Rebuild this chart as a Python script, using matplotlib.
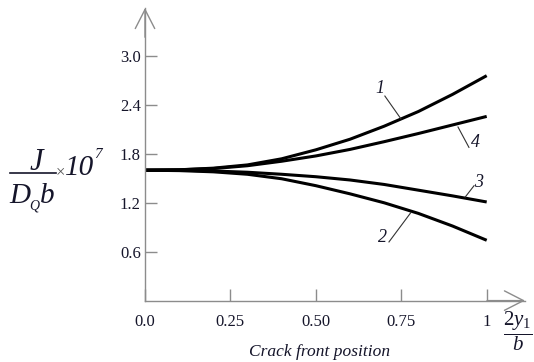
import matplotlib
matplotlib.use("Agg")
import matplotlib.pyplot as plt
from matplotlib.lines import Line2D

# ---- data ----
x_pos = [0.0, 0.1, 0.2, 0.3, 0.4, 0.5, 0.6, 0.7, 0.8, 0.9, 1.0]
curve1 = [1.60, 1.605, 1.625, 1.665, 1.74, 1.85, 1.98, 2.14, 2.32, 2.53, 2.76]
curve4 = [1.60, 1.605, 1.62, 1.655, 1.71, 1.775, 1.855, 1.95, 2.05, 2.155, 2.26]
curve3 = [1.60, 1.60, 1.59, 1.575, 1.55, 1.52, 1.48, 1.425, 1.355, 1.285, 1.21]
curve2 = [1.60, 1.595, 1.58, 1.55, 1.495, 1.41, 1.31, 1.20, 1.07, 0.915, 0.74]

xticks = [0.0, 0.25, 0.5, 0.75, 1.0]
xticklabels = ["0.0", "0.25", "0.50", "0.75", "1"]
yticks = [0.6, 1.2, 1.8, 2.4, 3.0]
yticklabels = ["0.6", "1.2", "1.8", "2.4", "3.0"]

# curve labels: (text, label position, leader start, leader end)
curve_labels = [
    ("1", (0.688, 2.60), (0.702, 2.51), (0.749, 2.23)),
    ("4", (0.968, 1.945), (0.916, 2.13), (0.948, 1.88)),
    ("3", (0.975, 1.455), (0.937, 1.27), (0.963, 1.41)),
    ("2", (0.694, 0.78), (0.714, 0.72), (0.778, 1.08)),
]

plt.rcParams['mathtext.fontset'] = 'custom'
plt.rcParams['mathtext.rm'] = 'Liberation Serif'
plt.rcParams['mathtext.it'] = 'Liberation Serif:italic'
plt.rcParams['font.family'] = ['Liberation Serif', 'DejaVu Serif']

axis_col = '#8c8c8c'
txt_col = '#15152a'
W, H = 534, 362

fig = plt.figure(figsize=(5.34, 3.62), dpi=100)
ax = fig.add_axes([145/W, 1-300.6/H, (525-145)/W, (300.6-8)/H])
ax.set_xlim(0, (525-145)/341.7)
ax.set_ylim(0, (300.6-8)/81.5)

for y in (curve1, curve4, curve3, curve2):
    ax.plot(x_pos, y, color='black', lw=2.2, solid_capstyle='butt',
            solid_joinstyle='round')

for txt, lp, ls, le in curve_labels:
    ax.plot([ls[0], le[0]], [ls[1], le[1]], color='#333333', lw=0.8)
    ax.text(lp[0], lp[1], txt, fontsize=13, style='italic', color=txt_col,
            ha='center', va='center')

for s in ('top', 'right'):
    ax.spines[s].set_visible(False)
for s in ('left', 'bottom'):
    ax.spines[s].set_color(axis_col)
    ax.spines[s].set_linewidth(1.0)

ax.set_xticks(xticks)
ax.set_xticklabels(xticklabels)
ax.set_yticks(yticks)
ax.set_yticklabels(yticklabels)
ax.tick_params(axis='both', direction='in', length=8.5, width=1.0,
               color=axis_col, labelsize=12, labelcolor=txt_col)
ax.tick_params(axis='y', pad=3)
ax.tick_params(axis='x', pad=10)

# axis arrows
ap = dict(arrowstyle='->,head_length=1.37,head_width=0.7', color=axis_col,
          lw=1.0, shrinkA=0, shrinkB=0, mutation_scale=10)
ax.annotate('', xy=(0, 1), xytext=(0, 0.9), xycoords='axes fraction',
            arrowprops=ap, annotation_clip=False)
ax.annotate('', xy=(1, 0), xytext=(0.9, 0), xycoords='axes fraction',
            arrowprops=ap, annotation_clip=False)

# x axis labels
fig.text(320/W, 1-352/H, 'Crack front position', fontsize=12.5,
         style='italic', color=txt_col, ha='center', va='center')
fig.text(518/W, 1-331/H, r'$\dfrac{2y_{\mathit{1}}}{b}$', fontsize=15,
         color=txt_col, ha='center', va='center')

# y axis label  J / (D_Q b) x 10^7, laid out piece by piece
def ftxt(px, py, s, size, **kw):
    fig.text(px/W, 1-py/H, s, fontsize=size, style='italic', color=txt_col,
             va='baseline', **kw)

ftxt(36, 170, 'J', 22, ha='center')
fig.add_artist(Line2D([10/W, 56/W], [1-173/H, 1-173/H], color=txt_col,
                      lw=1.2, transform=fig.transFigure))
ftxt(9, 203, 'D', 21, ha='left')
ftxt(29, 209, 'Q', 10, ha='left')
ftxt(40, 203, 'b', 21, ha='left')
fig.text(60/W, 1-172/H, '×', fontsize=12, color='#555555',
         ha='center', va='center')
ftxt(65, 175, '10', 21, ha='left')
ftxt(94, 158, '7', 11, ha='left')

fig.savefig('out.png', dpi=100)
